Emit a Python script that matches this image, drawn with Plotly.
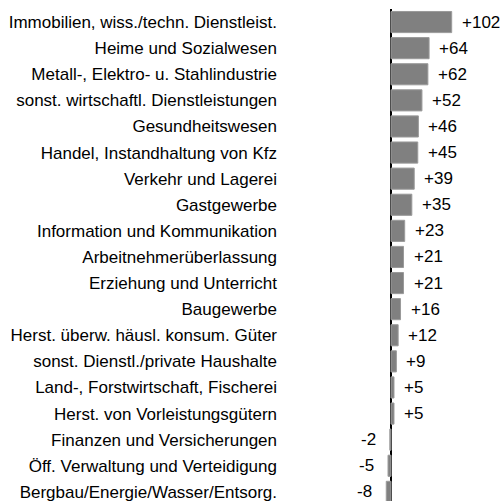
import plotly.graph_objects as go

categories = [
    "Immobilien, wiss./techn. Dienstleist.",
    "Heime und Sozialwesen",
    "Metall-, Elektro- u. Stahlindustrie",
    "sonst. wirtschaftl. Dienstleistungen",
    "Gesundheitswesen",
    "Handel, Instandhaltung von Kfz",
    "Verkehr und Lagerei",
    "Gastgewerbe",
    "Information und Kommunikation",
    "Arbeitnehmerüberlassung",
    "Erziehung und Unterricht",
    "Baugewerbe",
    "Herst. überw. häusl. konsum. Güter",
    "sonst. Dienstl./private Haushalte",
    "Land-, Forstwirtschaft, Fischerei",
    "Herst. von Vorleistungsgütern",
    "Finanzen und Versicherungen",
    "Öff. Verwaltung und Verteidigung",
    "Bergbau/Energie/Wasser/Entsorg.",
]
values = [102, 64, 62, 52, 46, 45, 39, 35, 23, 21, 21, 16, 12, 9, 5, 5, -2, -5, -8]
value_labels = [("+%d" % v) if v > 0 else str(v) for v in values]

FONT = "Liberation Sans, Arial, sans-serif"
FS = 17

fig = go.Figure(go.Bar(
    x=values, y=categories, orientation="h",
    marker=dict(color="#808080", line=dict(color="#9a9a9a", width=1)),
    width=0.81,
    hoverinfo="skip",
))

for v, c, t in zip(values, categories, value_labels):
    fig.add_annotation(
        x=v, y=c, text=t, showarrow=False,
        xanchor="left" if v >= 0 else "right",
        xshift=8 if v >= 0 else -12,
        font=dict(family=FONT, size=FS, color="#000000"),
    )

fig.update_layout(
    width=500, height=501,
    margin=dict(l=281, r=0, t=9, b=0),
    plot_bgcolor="white", paper_bgcolor="white",
    showlegend=False,
    font=dict(family=FONT, size=FS, color="#000000"),
    xaxis=dict(range=[-184.9, 183.2], showgrid=False, showticklabels=False,
               zeroline=True, zerolinecolor="#000000", zerolinewidth=1.5,
               fixedrange=True),
    yaxis=dict(range=[18.35, -0.5], showgrid=False, ticks="",
               tickfont=dict(family=FONT, size=FS, color="#000000"),
               ticklabelstandoff=3, fixedrange=True),
)

fig.write_html(
    "out.html",
    config={"displayModeBar": False},
    post_script="document.body.style.margin='0';document.body.style.overflow='hidden';",
)
